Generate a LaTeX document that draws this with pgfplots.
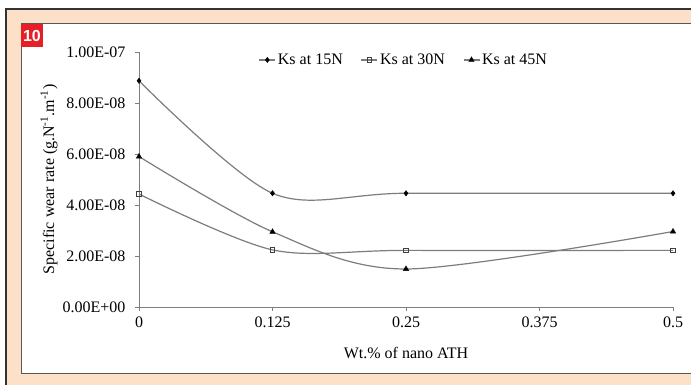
\documentclass[border=0pt]{standalone}
\usepackage{pgfplots}
\pgfplotsset{compat=1.18}
\usepackage{fontspec}
\setmainfont{Liberation Serif}
\newfontfamily\labelfont{Liberation Sans}
\definecolor{peach}{RGB}{253,224,200}
\definecolor{tagred}{RGB}{230,30,40}
\definecolor{linegray}{RGB}{125,125,125}
\begin{document}
\begin{tikzpicture}[x=1pt,y=1pt]
\useasboundingbox (0,0) rectangle (691,385);
\fill[white] (0,0) rectangle (691,385);
\fill[peach] (6,0) rectangle (691,376);
\draw[black!80, line width=1.2pt] (6,0) -- (6,376) -- (691,376);
\fill[white] (21,11) rectangle (691,361);
\draw[black!65, line width=1pt] (691,361) -- (21,361) -- (21,11) -- (691,11);
\fill[tagred] (21,338) rectangle (43,361);
\node[text=white, font=\labelfont\bfseries\fontsize{16}{16}\selectfont, inner sep=0] at (32,349.5) {10};
\begin{axis}[
  at={(139pt,78pt)}, anchor=south west,
  scale only axis, width=534pt, height=255pt,
  xmin=0, xmax=0.5, ymin=0, ymax=1e-7,
  axis lines*=left,
  axis line style={linegray, line width=0.9pt, -},
  tick style={linegray, line width=0.9pt},
  tick align=outside, major tick length=4pt,
  xtick={0,0.125,0.25,0.375,0.5},
  xticklabels={0,0.125,0.25,0.375,0.5},
  ytick={0,2e-8,4e-8,6e-8,8e-8,1e-7},
  yticklabels={0.00E+00,2.00E-08,4.00E-08,6.00E-08,8.00E-08,1.00E-07},
  scaled y ticks=false, scaled x ticks=false,
  tick label style={font=\fontsize{16}{16}\selectfont},
  yticklabel style={xshift=-6pt},
  xticklabel style={yshift=-2pt},
  xlabel={Wt.\% of nano ATH},
  ylabel={Specific wear rate (g.N\textsuperscript{-1}.m\textsuperscript{-1})},
  label style={font=\fontsize{16}{16}\selectfont},
  xlabel style={at={(axis description cs:0.5,-0.18)}, anchor=center},
  ylabel style={at={(axis description cs:-0.1685,0.5)}, anchor=center, rotate=0},
  legend columns=3,
  legend style={draw=none, fill=none, at={(0.496,0.969)}, anchor=center,
    font=\fontsize{16}{16}\selectfont, inner sep=0pt,
    /tikz/every even column/.append style={column sep=16pt}},
  legend image code/.code={\draw[#1, mark repeat=2, mark phase=2] plot coordinates {(0pt,0pt) (8pt,0pt) (16pt,0pt)};},
]
\addplot[linegray, line width=1.2pt, smooth, mark=diamond*, mark size=2.6pt, mark options={solid, fill=black, draw=black, line width=0.5pt}]
  coordinates {(0,8.87e-8) (0.125,4.46e-8) (0.25,4.46e-8) (0.5,4.46e-8)};
\addlegendentry{Ks at 15N}
\addplot[linegray, line width=1.2pt, smooth, mark=square, mark size=2.2pt, mark options={solid, fill=white, draw=black!75, line width=0.8pt}]
  coordinates {(0,4.43e-8) (0.125,2.24e-8) (0.25,2.22e-8) (0.5,2.22e-8)};
\addlegendentry{Ks at 30N}
\addplot[linegray, line width=1.2pt, smooth, mark=triangle*, mark size=3pt, mark options={solid, fill=black, draw=black, line width=0.5pt}]
  coordinates {(0,5.9e-8) (0.125,2.95e-8) (0.25,1.49e-8) (0.5,2.96e-8)};
\addlegendentry{Ks at 45N}
\end{axis}
\end{tikzpicture}
\end{document}
